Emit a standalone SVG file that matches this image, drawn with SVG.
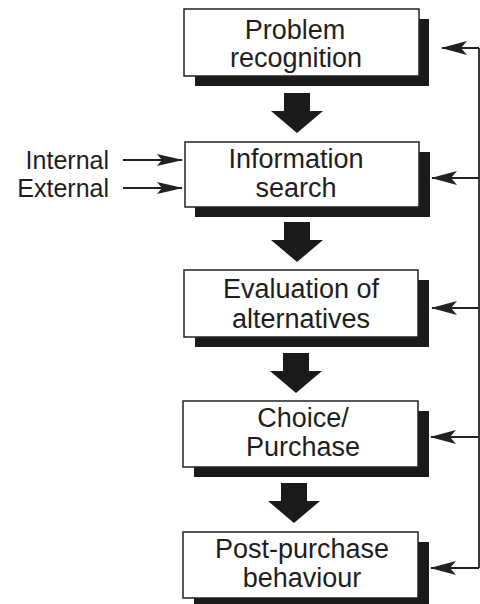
<svg xmlns="http://www.w3.org/2000/svg" xmlns:xlink="http://www.w3.org/1999/xlink" width="480" height="604" viewBox="0 0 480 604">
<style>
.shadow{fill:#1a1a1a}
.box{fill:#fff;stroke:#222;stroke-width:1.5}
.lbl{font-family:"Liberation Sans",Arial,sans-serif;font-size:27px;fill:#1e1e1e;text-anchor:middle}
.side{font-family:"Liberation Sans",Arial,sans-serif;font-size:25px;fill:#1e1e1e;text-anchor:end}
.line{stroke:#222;stroke-width:1.8;fill:none}
.block{fill:#1a1a1a}
</style>
<defs>
<marker id="ah" markerWidth="26" markerHeight="14" refX="25" refY="7" orient="auto" markerUnits="userSpaceOnUse">
<path d="M26,7 L0,0 L6,7 L0,14 Z" fill="#222"/>
</marker>
<marker id="ih" markerWidth="26" markerHeight="12" refX="25" refY="6" orient="auto" markerUnits="userSpaceOnUse">
<path d="M26,6 L0,0 L5,6 L0,12 Z" fill="#222"/>
</marker>
<path id="barrow" d="M-13,0 H13 V18 H26 L0,40 L-26,18 H-13 Z"/>
</defs>

<g id="problem-recognition">
<rect class="shadow" x="195" y="19" width="234" height="67"/>
<rect class="box" x="184" y="9" width="235" height="67"/>
<text class="lbl" x="295" y="39">Problem</text>
<text class="lbl" x="296" y="67">recognition</text>
</g>

<g id="information-search">
<rect class="shadow" x="195" y="152" width="235" height="65"/>
<rect class="box" x="185" y="142" width="234" height="65"/>
<text class="lbl" x="296" y="168">Information</text>
<text class="lbl" x="296" y="197">search</text>
</g>

<g id="evaluation">
<rect class="shadow" x="195" y="280" width="234" height="67"/>
<rect class="box" x="184" y="270" width="234" height="67"/>
<text class="lbl" x="301" y="298">Evaluation of</text>
<text class="lbl" x="301" y="328">alternatives</text>
</g>

<g id="choice-purchase">
<rect class="shadow" x="194" y="411" width="235" height="66"/>
<rect class="box" x="183" y="401" width="235" height="66"/>
<text class="lbl" x="303" y="427">Choice/</text>
<text class="lbl" x="303" y="456">Purchase</text>
</g>

<g id="post-purchase">
<rect class="shadow" x="194" y="542" width="235" height="66"/>
<rect class="box" x="183" y="532" width="235" height="66"/>
<text class="lbl" x="302" y="558">Post-purchase</text>
<text class="lbl" x="302" y="587">behaviour</text>
</g>

<g id="inputs">
<text class="side" x="109" y="169">Internal</text>
<text class="side" x="109" y="197">External</text>
</g>

<g id="connectors">
<use xlink:href="#barrow" class="block" x="297" y="93"/>
<use xlink:href="#barrow" class="block" x="297" y="222"/>
<use xlink:href="#barrow" class="block" x="296" y="353"/>
<use xlink:href="#barrow" class="block" x="294" y="483"/>
<line class="line" x1="123" y1="160" x2="182" y2="160" marker-end="url(#ih)"/>
<line class="line" x1="123" y1="188" x2="182" y2="188" marker-end="url(#ih)"/>
<line class="line" x1="479" y1="48" x2="479" y2="568"/>
<line class="line" x1="479" y1="48" x2="442" y2="48" marker-end="url(#ah)"/>
<line class="line" x1="479" y1="178" x2="432" y2="178" marker-end="url(#ah)"/>
<line class="line" x1="479" y1="308" x2="432" y2="308" marker-end="url(#ah)"/>
<line class="line" x1="479" y1="437" x2="431" y2="437" marker-end="url(#ah)"/>
<line class="line" x1="479" y1="568" x2="431" y2="568" marker-end="url(#ah)"/>
</g>
</svg>
